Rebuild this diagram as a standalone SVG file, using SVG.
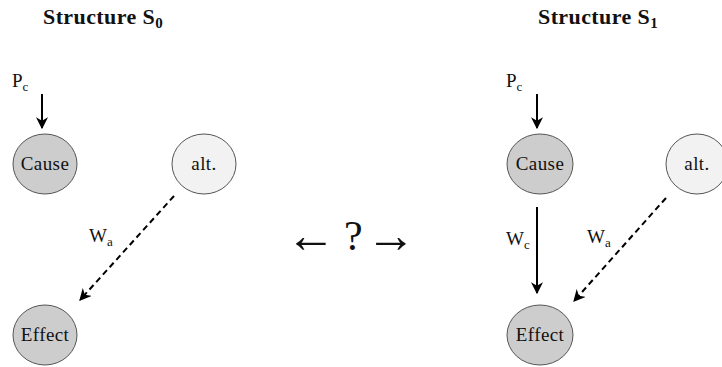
<svg xmlns="http://www.w3.org/2000/svg" width="722" height="367" viewBox="0 0 722 367">
<style>
.title{font-family:"Liberation Serif",serif;font-weight:bold;font-size:22px;letter-spacing:0.4px;fill:#111}
.lbl{font-family:"Liberation Serif",serif;font-size:19px;fill:#111}
.sub{font-family:"Liberation Serif",serif;font-size:13px;fill:#111}
.ntxt{font-family:"Liberation Serif",serif;font-size:19px;letter-spacing:0.4px;fill:#111;text-anchor:middle}
.dark{fill:#cdcdcd;stroke:#555;stroke-width:1}
.light{fill:#f2f2f2;stroke:#555;stroke-width:1}
.edge{stroke:#000;stroke-width:2;fill:none}
.dash{stroke-dasharray:6,4}
.mid{font-family:"Liberation Serif","DejaVu Serif",serif;fill:#111}
</style>
<defs>
<marker id="ah" viewBox="0 0 10 10" refX="9" refY="5" markerWidth="6" markerHeight="6" markerUnits="strokeWidth" orient="auto">
<path d="M0,0 L10,5 L0,10 L3,5 z" fill="#000"/>
</marker>
</defs>
<g id="titles">
<text class="title" x="43" y="24">Structure S<tspan font-size="15" dy="4">0</tspan></text>
<text class="title" x="538" y="24">Structure S<tspan font-size="15" dy="4">1</tspan></text>
</g>
<g id="connectors">
<line class="edge" x1="42" y1="94" x2="42" y2="128" marker-end="url(#ah)"/>
<line class="edge dash" x1="174" y1="196" x2="80" y2="300" marker-end="url(#ah)"/>
<line class="edge" x1="537" y1="94" x2="537" y2="128" marker-end="url(#ah)"/>
<line class="edge" x1="537" y1="207" x2="537" y2="293" marker-end="url(#ah)"/>
<line class="edge dash" x1="666" y1="198" x2="574" y2="301" marker-end="url(#ah)"/>
</g>
<g id="labels">
<text class="lbl" x="12" y="87">P<tspan class="sub" dy="4">c</tspan></text>
<text class="lbl" x="89" y="242">W<tspan class="sub" dy="4">a</tspan></text>
<text class="lbl" x="506" y="87">P<tspan class="sub" dy="4">c</tspan></text>
<text class="lbl" x="506" y="245">W<tspan class="sub" dy="4">c</tspan></text>
<text class="lbl" x="587" y="243">W<tspan class="sub" dy="4">a</tspan></text>
</g>
<g id="middle">
<text class="mid" x="286" y="252" font-size="50">←</text>
<text class="mid" x="344" y="250" font-size="42">?</text>
<text class="mid" x="366" y="252" font-size="50">→</text>
</g>
<g id="node-cause0"><ellipse class="dark" cx="45" cy="164" rx="32" ry="30"/><text class="ntxt" x="45" y="170">Cause</text></g>
<g id="node-alt0"><ellipse class="light" cx="204" cy="164" rx="32" ry="30"/><text class="ntxt" x="204" y="170">alt.</text></g>
<g id="node-effect0"><ellipse class="dark" cx="45" cy="335" rx="32" ry="30"/><text class="ntxt" x="45" y="341">Effect</text></g>
<g id="node-cause1"><ellipse class="dark" cx="540" cy="164" rx="33" ry="30"/><text class="ntxt" x="540" y="170">Cause</text></g>
<g id="node-alt1"><ellipse class="light" cx="697" cy="164" rx="31" ry="30"/><text class="ntxt" x="697" y="170">alt.</text></g>
<g id="node-effect1"><ellipse class="dark" cx="540" cy="335" rx="33" ry="30"/><text class="ntxt" x="540" y="341">Effect</text></g>
</svg>
